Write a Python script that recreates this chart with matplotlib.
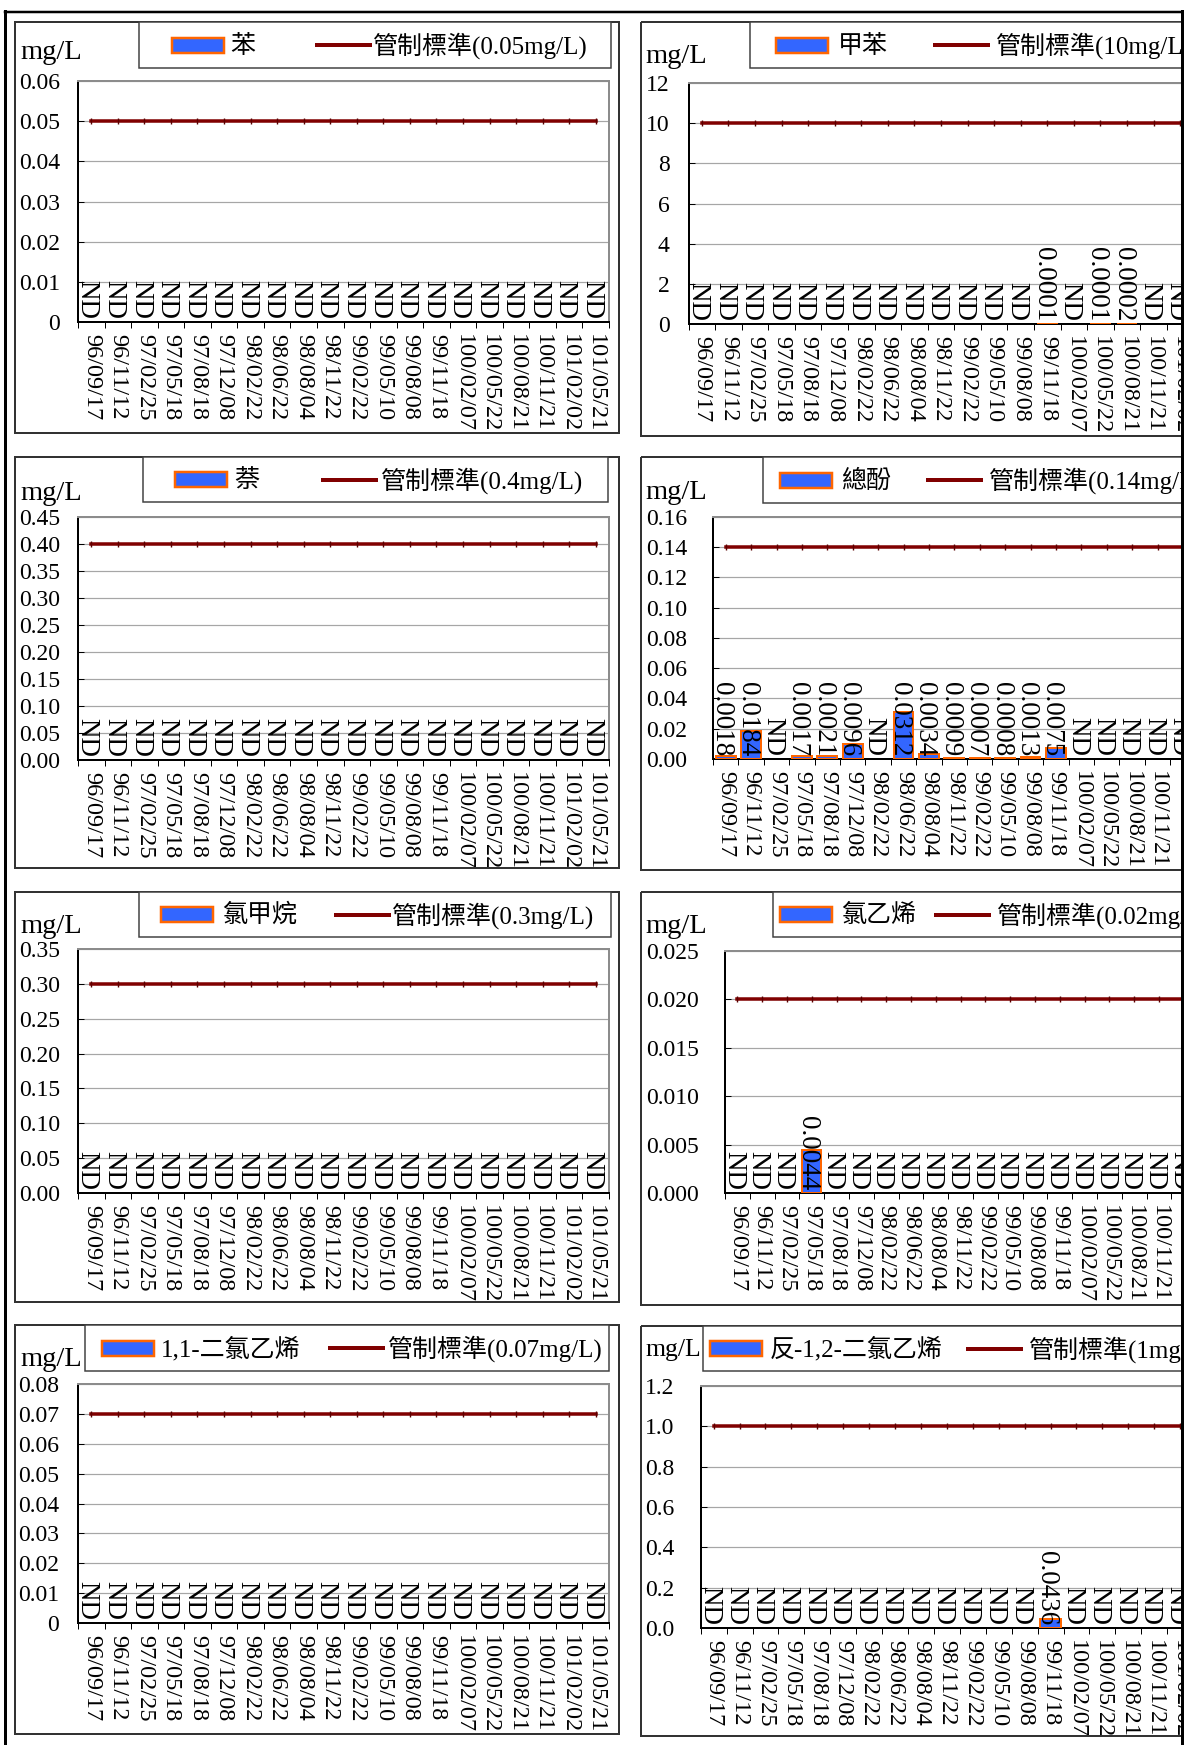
import matplotlib
matplotlib.use('Agg')
import matplotlib.pyplot as plt
from matplotlib.patches import Rectangle
from matplotlib.lines import Line2D
import numpy as np

plt.rcParams['font.family'] = ['Liberation Serif', 'Noto Sans CJK TC']

# sampling dates (ROC calendar)
dates = ['96/09/17', '96/11/12', '97/02/25', '97/05/18', '97/08/18', '97/12/08',
         '98/02/22', '98/06/22', '98/08/04', '98/11/22', '99/02/22', '99/05/10',
         '99/08/08', '99/11/18', '100/02/07', '100/05/22', '100/08/21', '100/11/21',
         '101/02/02', '101/05/21']

ND = None  # not detected
benzene = [ND, ND, ND, ND, ND, ND, ND, ND, ND, ND, ND, ND, ND, ND, ND, ND, ND, ND, ND, ND]
toluene = [ND, ND, ND, ND, ND, ND, ND, ND, ND, ND, ND, ND, ND, 0.0001, ND, 0.0001, 0.0002, ND, ND, ND]
naphthalene = [ND, ND, ND, ND, ND, ND, ND, ND, ND, ND, ND, ND, ND, ND, ND, ND, ND, ND, ND, ND]
phenols = [0.0018, 0.0184, ND, 0.0017, 0.0021, 0.0096, ND, 0.0312, 0.0034, 0.0009,
           0.0007, 0.0008, 0.0013, 0.0075, ND, ND, ND, ND, ND, ND]
chloromethane = [ND, ND, ND, ND, ND, ND, ND, ND, ND, ND, ND, ND, ND, ND, ND, ND, ND, ND, ND, ND]
vinyl_chloride = [ND, ND, ND, 0.0044, ND, ND, ND, ND, ND, ND, ND, ND, ND, ND, ND, ND, ND, ND, ND, ND]
dce_11 = [ND, ND, ND, ND, ND, ND, ND, ND, ND, ND, ND, ND, ND, ND, ND, ND, ND, ND, ND, ND]
dce_t12 = [ND, ND, ND, ND, ND, ND, ND, ND, ND, ND, ND, ND, ND, 0.0436, ND, ND, ND, ND, ND, ND]

series = [benzene, toluene, naphthalene, phenols, chloromethane, vinyl_chloride, dce_11, dce_t12]
names = ['苯', '甲苯', '萘', '總酚', '氯甲烷', '氯乙烯', '1,1-二氯乙烯', '反-1,2-二氯乙烯']
standards = [0.05, 10, 0.4, 0.14, 0.3, 0.02, 0.07, 1.0]
std_labels = ['管制標準(0.05mg/L)', '管制標準(10mg/L)', '管制標準(0.4mg/L)', '管制標準(0.14mg/L)',
              '管制標準(0.3mg/L)', '管制標準(0.02mg/L)', '管制標準(0.07mg/L)', '管制標準(1mg/L)']
y_max = [0.06, 12, 0.45, 0.16, 0.35, 0.025, 0.08, 1.2]
y_step = [0.01, 2, 0.05, 0.02, 0.05, 0.005, 0.01, 0.2]
y_fmt = ['{:g}', '{:g}', '{:.2f}', '{:.2f}', '{:.2f}', '{:.3f}', '{:g}', '{:.1f}']

# layout in pixels (x0, y0, x1, y1), y measured from the top
W, H = 1184, 1745
PX = 72 / 100  # points per pixel
boxes = [(15, 22, 619, 433), (641, 22, 1300, 436), (15, 457, 619, 868), (641, 457, 1300, 870),
         (15, 892, 619, 1302), (641, 892, 1300, 1305), (15, 1325, 619, 1734), (641, 1326, 1300, 1736)]
plots = [(78, 81, 609, 322), (688.6, 83, 1220, 324), (78, 517, 609, 760), (713, 517, 1221, 759),
         (78, 949, 609, 1193), (725, 951, 1221, 1193), (78, 1384, 609, 1623), (700.7, 1386, 1219, 1628)]
leg_boxes = [(139, 22, 611, 68), (750, 22, 1300, 68), (143, 457, 608, 502), (763, 457, 1300, 503),
             (139, 892, 611, 937), (773, 892, 1300, 937), (84.5, 1325, 609, 1371), (702.5, 1326, 1300, 1371)]
leg_items = [(172, 230, 317, 373), (776, 838, 935, 996), (175, 234, 323, 381), (780, 841, 928, 989),
             (161, 222, 336, 392), (780, 841, 936, 997), (102, 161, 330, 388), (710, 770, 968, 1029)]
mg_pos = [(20, 52), (645, 56), (20, 493), (645, 492), (20, 926), (645, 926), (20, 1359), (645, 1350)]
mg_size = [20.5, 20.5, 20.5, 20.5, 20.5, 20.5, 20.5, 18.5]
ylab_pad = [18, 19, 18, 26, 18, 26, 19, 26]

BAR_FACE = '#3366ff'
BAR_EDGE = '#ff6600'
STD_COLOR = '#800000'

fig = plt.figure(figsize=(W / 100, H / 100), dpi=100)
fig.patch.set_facecolor('white')


def frac(b):
    x0, y0, x1, y1 = b
    return [x0 / W, 1 - y1 / H, (x1 - x0) / W, (y1 - y0) / H]


x = np.arange(len(dates))
for k in range(8):
    ax = fig.add_axes(frac(plots[k]))
    vals = series[k]
    xs = [i for i, v in enumerate(vals) if v is not None]
    hs = [v for v in vals if v is not None]
    ax.bar(xs, hs, width=0.78, color=BAR_FACE, edgecolor=BAR_EDGE, linewidth=2 * PX, zorder=3)
    ax.plot(x, [standards[k]] * len(dates), color=STD_COLOR, lw=3.5 * PX, zorder=4,
            marker='|', ms=4, mew=1, mec='#5a0000')
    for i, v in enumerate(vals):
        ax.annotate('ND' if v is None else str(v), xy=(i, 0), xytext=(-4 * PX, 3 * PX),
                    textcoords='offset points', rotation=-90, ha='center', va='bottom',
                    fontsize=19.5, zorder=5)
    ax.set_xlim(-0.5, len(dates) - 0.5)
    ax.set_ylim(0, y_max[k])
    yt = np.linspace(0, y_max[k], int(round(y_max[k] / y_step[k])) + 1)
    ax.set_yticks(yt, [y_fmt[k].format(t) for t in yt])
    ax.set_xticks(x, dates, rotation=-90, fontsize=17.5)
    ax.set_xticks(np.arange(len(dates) + 1) - 0.5, minor=True)
    ax.tick_params(axis='x', which='major', length=0, pad=12 * PX)
    ax.tick_params(axis='x', which='minor', length=6 * PX, width=1 * PX, direction='out', color='black')
    ax.tick_params(axis='y', direction='in', length=6 * PX, width=1 * PX, labelsize=17,
                   pad=ylab_pad[k] * PX)
    ax.yaxis.grid(True, color='#a6a6a6', lw=1.2 * PX)
    ax.set_axisbelow(True)
    for s in ('left', 'bottom'):
        ax.spines[s].set_color('black')
        ax.spines[s].set_linewidth(2 * PX)
    for s in ('top', 'right'):
        ax.spines[s].set_color('#8c8c8c')
        ax.spines[s].set_linewidth(2 * PX)

# overlay in pixel coordinates for frames, legends and unit labels
ov = fig.add_axes([0, 0, 1, 1])
ov.set_xlim(0, W)
ov.set_ylim(H, 0)
ov.axis('off')
ov.patch.set_visible(False)

for k in range(8):
    x0, y0, x1, y1 = boxes[k]
    ov.add_patch(Rectangle((x0, y0), x1 - x0, y1 - y0, fill=False, ec='#333333', lw=2 * PX))
    lx0, ly0, lx1, ly1 = leg_boxes[k]
    ov.add_patch(Rectangle((lx0, ly0), lx1 - lx0, ly1 - ly0, fc='white', ec='#404040', lw=1.5 * PX))
    cy = (ly0 + ly1) / 2
    px0, tx1, lnx0, tx2 = leg_items[k]
    ov.add_patch(Rectangle((px0, cy - 7.5), 52, 15, fc=BAR_FACE, ec=BAR_EDGE, lw=2.5 * PX))
    ov.text(tx1, cy + 1, names[k], fontsize=18, va='center', ha='left')
    ov.add_line(Line2D([lnx0, lnx0 + 53], [cy, cy], color=STD_COLOR, lw=4 * PX))
    ov.text(tx2, cy + 1, std_labels[k], fontsize=18, va='center', ha='left')
    mx, my = mg_pos[k]
    ov.text(mx, my, 'mg/L', fontsize=mg_size[k], va='center', ha='left')

# page frame
ov.add_line(Line2D([5, 5], [11, H], color='black', lw=3 * PX))
ov.add_line(Line2D([5, 1182], [12, 12], color='black', lw=2.5 * PX))
ov.add_line(Line2D([1182, 1182], [11, H], color='black', lw=3 * PX))

fig.savefig('out.png', dpi=100, facecolor='white')
